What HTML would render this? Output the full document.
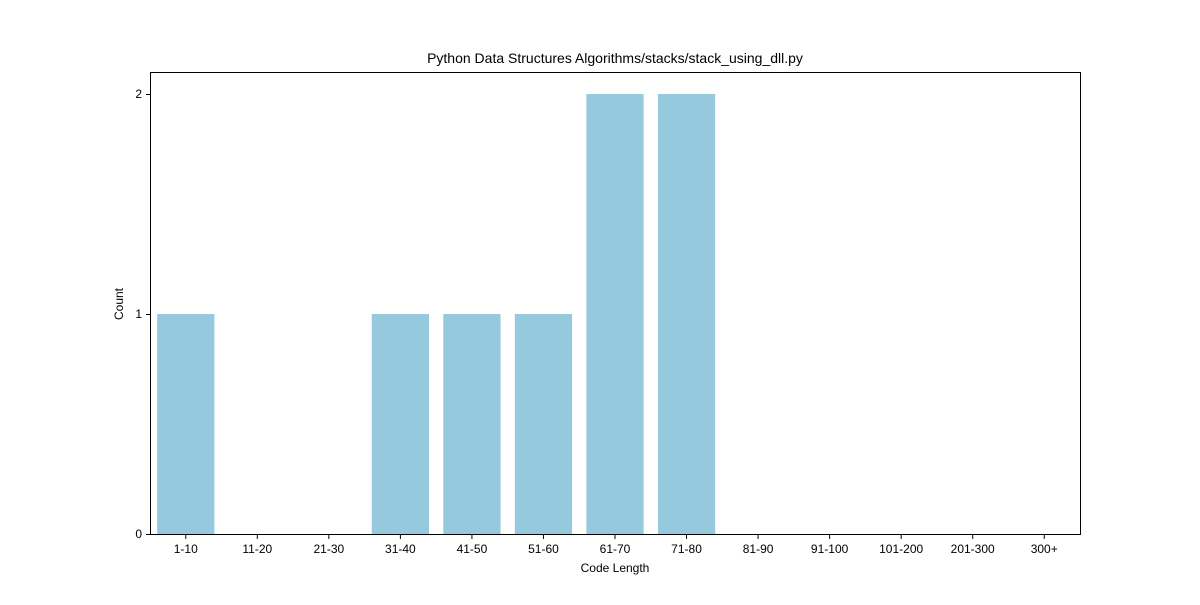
<!DOCTYPE html>
<html><head><meta charset="utf-8"><style>
body{margin:0;background:#fff;}
svg text{font-family:"Liberation Sans","DejaVu Sans",sans-serif;fill:#000;}
</style></head><body>
<svg id="chart" width="1200" height="600">
<rect x="0" y="0" width="1200" height="600" fill="#fff"/>
<text x="615" y="63" font-size="14" text-anchor="middle">Python Data Structures Algorithms/stacks/stack_using_dll.py</text>
<g id="bars"></g>
<rect x="150.5" y="72.5" width="930" height="462" fill="none" stroke="#000" stroke-width="1"/>
<g id="xticks"></g><g id="yticks"></g>
<text x="615" y="572" font-size="12" text-anchor="middle">Code Length</text>
<text x="0" y="0" font-size="12" text-anchor="middle" transform="translate(123,304) rotate(-90)">Count</text>
</svg>
<script>
const categories=["1-10","11-20","21-30","31-40","41-50","51-60","61-70","71-80","81-90","91-100","101-200","201-300","300+"];
const counts=[1,0,0,1,1,1,2,2,0,0,0,0,0];
const yTicks=[0,1,2];
const NS="http://www.w3.org/2000/svg";
const x0=150,x1=1080,yBase=534,yTop=94,yMax=2;
const slot=(x1-x0)/categories.length;
const xs=i=>x0+slot*(i+0.5);
const ys=v=>yBase-(yBase-yTop)*v/yMax;
const bars=document.getElementById('bars'),xt=document.getElementById('xticks'),yt=document.getElementById('yticks');
function mk(t,a){const e=document.createElementNS(NS,t);for(const k in a)e.setAttribute(k,a[k]);return e;}
categories.forEach((c,i)=>{
  const w=slot*0.8,h=yBase-ys(counts[i]);
  const r=mk('rect',{x:xs(i)-w/2,y:ys(counts[i]),width:w,height:h,fill:'#96c9dd'});
  
  
  bars.appendChild(r);
  const l=mk('line',{x1:xs(i),x2:xs(i),y1:534.5,y2:539,stroke:'#000'});
  
  
  xt.appendChild(l);
  const t=mk('text',{x:xs(i),y:553,'font-size':12,'text-anchor':'middle'});
  t.textContent=c;
  
  
  xt.appendChild(t);
});
yTicks.forEach(v=>{
  const l=mk('line',{x1:146,x2:150.5,y1:ys(v)+0.5,y2:ys(v)+0.5,stroke:'#000'});
  
  
  yt.appendChild(l);
  const t=mk('text',{x:142,y:ys(v)+4,'font-size':12,'text-anchor':'end'});
  t.textContent=v;
  
  
  yt.appendChild(t);
});
</script>
</body></html>
